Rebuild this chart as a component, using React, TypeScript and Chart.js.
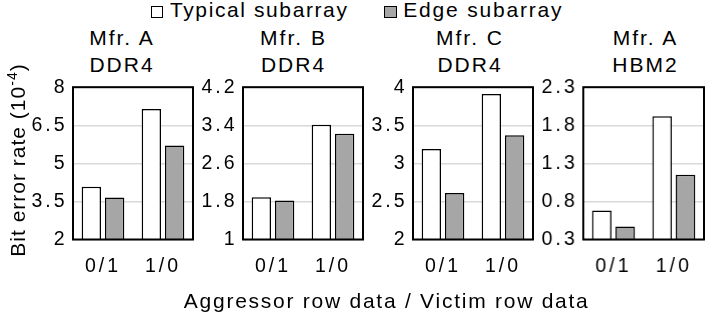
import React, { useEffect, useRef } from 'react';
import { Chart, registerables } from 'chart.js';

Chart.register(...registerables);

// ---- data ----
const categories = ['0/1', '1/0'];
const seriesNames = ['Typical subarray', 'Edge subarray'];
const panelTitles = [
  ['Mfr. A', 'DDR4'],
  ['Mfr. B', 'DDR4'],
  ['Mfr. C', 'DDR4'],
  ['Mfr. A', 'HBM2'],
];

const typicalMfrA = [4.08, 7.14];
const edgeMfrA = [3.65, 5.7];
const typicalMfrB = [1.89, 3.41];
const edgeMfrB = [1.82, 3.22];
const typicalMfrC = [3.19, 3.91];
const edgeMfrC = [2.61, 3.37];
const typicalHbm = [0.68, 1.92];
const edgeHbm = [0.47, 1.15];

const ticksMfrA = [2, 3.5, 5, 6.5, 8];
const ticksMfrB = [1, 1.8, 2.6, 3.4, 4.2];
const ticksMfrC = [2, 2.5, 3, 3.5, 4];
const ticksHbm = [0.3, 0.8, 1.3, 1.8, 2.3];

const yTitle = 'Bit error rate (10';
const ySup = '-4';
const xTitle = 'Aggressor row data / Victim row data';

// ---- layout ----
const FONT = "'Liberation Sans', Arial, sans-serif";
const PLOT_W = 120.5;
const AXIS_W = 50;
const PAD_R = 6;
const CANVAS_TOP = 70;
const CANVAS_H = 230;

const panels = [
  { typical: typicalMfrA, edge: edgeMfrA, ticks: ticksMfrA, left: 72.5, titleCx: 121 },
  { typical: typicalMfrB, edge: edgeMfrB, ticks: ticksMfrB, left: 242.5, titleCx: 292.5 },
  { typical: typicalMfrC, edge: edgeMfrC, ticks: ticksMfrC, left: 412.5, titleCx: 469 },
  { typical: typicalHbm, edge: edgeHbm, ticks: ticksHbm, left: 583, titleCx: 644.5 },
];

const framePlugin = {
  id: 'frame',
  beforeDraw(chart: any) {
    (chart.ctx as any).letterSpacing = '3px';
  },
  afterDatasetsDraw(chart: any) {
    const { ctx, chartArea } = chart;
    ctx.save();
    ctx.strokeStyle = '#000';
    ctx.lineWidth = 2;
    ctx.strokeRect(chartArea.left, chartArea.top, chartArea.right - chartArea.left, chartArea.bottom - chartArea.top);
    ctx.restore();
  },
};

function Panel(props: { typical: number[]; edge: number[]; ticks: number[]; left: number }) {
  const ref = useRef<HTMLCanvasElement | null>(null);
  const { typical, edge, ticks, left } = props;
  const width = AXIS_W + PLOT_W + PAD_R;
  useEffect(() => {
    if (!ref.current) return;
    const chart = new Chart(ref.current, {
      type: 'bar',
      data: {
        labels: categories,
        datasets: [
          {
            label: seriesNames[0],
            data: typical,
            backgroundColor: '#ffffff',
            borderColor: '#000000',
            borderWidth: 1.5,
            categoryPercentage: 0.777,
            barPercentage: 0.83,
          },
          {
            label: seriesNames[1],
            data: edge,
            backgroundColor: '#a6a6a6',
            borderColor: '#000000',
            borderWidth: 1.5,
            categoryPercentage: 0.777,
            barPercentage: 0.83,
          },
        ],
      },
      options: {
        responsive: false,
        maintainAspectRatio: false,
        animation: false,
        devicePixelRatio: 1,
        layout: { padding: { left: 0, right: PAD_R, top: 16, bottom: 0 } },
        scales: {
          x: {
            type: 'category',
            grid: { display: false, drawTicks: false },
            border: { display: false },
            ticks: {
              color: '#000',
              font: { family: FONT, size: 19.5 },
              padding: 15,
              maxRotation: 0,
              autoSkip: false,
            },
            afterFit: (s: any) => {
              s.height = 60.5;
            },
          },
          y: {
            type: 'linear',
            min: ticks[0],
            max: ticks[ticks.length - 1],
            grid: { color: '#d9d9d9', lineWidth: 1.5, drawTicks: false },
            border: { display: false },
            ticks: {
              color: '#000',
              font: { family: FONT, size: 19.5 },
              padding: 5.5,
              callback: (v: any) => String(Math.round(Number(v) * 100) / 100),
            },
            afterBuildTicks: (s: any) => {
              s.ticks = ticks.map((v) => ({ value: v }));
            },
            afterFit: (s: any) => {
              s.width = AXIS_W;
            },
          },
        },
        plugins: {
          legend: { display: false },
          title: { display: false },
          tooltip: { enabled: false },
        },
      } as any,
      plugins: [framePlugin],
    });
    return () => chart.destroy();
  }, []);
  return (
    <canvas
      ref={ref}
      width={width}
      height={CANVAS_H}
      style={{ position: 'absolute', left: left - AXIS_W, top: CANVAS_TOP, width, height: CANVAS_H }}
    />
  );
}

export default function App() {
  const textBase: React.CSSProperties = { position: 'absolute', fontFamily: FONT, color: '#000', whiteSpace: 'nowrap' };
  const box = (bg: string): React.CSSProperties => ({
    position: 'absolute',
    width: 12.5,
    height: 12,
    boxSizing: 'border-box',
    border: '1.5px solid #000',
    background: bg,
  });
  return (
    <div style={{ position: 'absolute', left: 0, top: 0, width: 706, height: 318, background: '#fff', overflow: 'hidden' }}>
      {/* legend */}
      <div style={{ ...box('#ffffff'), left: 150.5, top: 5.5 }} />
      <div style={{ ...textBase, left: 170, top: -2.2, fontSize: 21, lineHeight: '24px', letterSpacing: '1.6px' }}>{seriesNames[0]}</div>
      <div style={{ ...box('#a6a6a6'), left: 384, top: 5.5 }} />
      <div style={{ ...textBase, left: 403.3, top: -2.2, fontSize: 21, lineHeight: '24px', letterSpacing: '1.8px' }}>{seriesNames[1]}</div>

      {/* panel titles */}
      {panels.map((p, i) => (
        <div
          key={'t' + i}
          style={{
            ...textBase,
            left: p.titleCx - 70,
            width: 140,
            top: 25.2,
            fontSize: 21,
            lineHeight: '26.6px',
            textAlign: 'center',
            letterSpacing: '2px',
            paddingLeft: 2,
            boxSizing: 'border-box',
          }}
        >
          {panelTitles[i][0]}
          <br />
          {panelTitles[i][1]}
        </div>
      ))}

      {/* charts */}
      {panels.map((p, i) => (
        <Panel key={'p' + i} typical={p.typical} edge={p.edge} ticks={p.ticks} left={p.left} />
      ))}

      {/* y title */}
      <div
        style={{
          ...textBase,
          left: 17.5,
          top: 160,
          width: 260,
          height: 24,
          lineHeight: '24px',
          fontSize: 21,
          textAlign: 'center',
          letterSpacing: '1px',
          transform: 'translate(-50%, -50%) rotate(-90deg)',
        }}
      >
        {yTitle}
        <sup style={{ fontSize: 14, lineHeight: 0 }}>{ySup}</sup>)
      </div>

      {/* x title */}
      <div
        style={{
          ...textBase,
          left: 385.8 - 250,
          width: 500,
          top: 289,
          fontSize: 21,
          lineHeight: '24px',
          textAlign: 'center',
          letterSpacing: '1.75px',
          paddingLeft: 1.75,
          boxSizing: 'border-box',
        }}
      >
        {xTitle}
      </div>
    </div>
  );
}
